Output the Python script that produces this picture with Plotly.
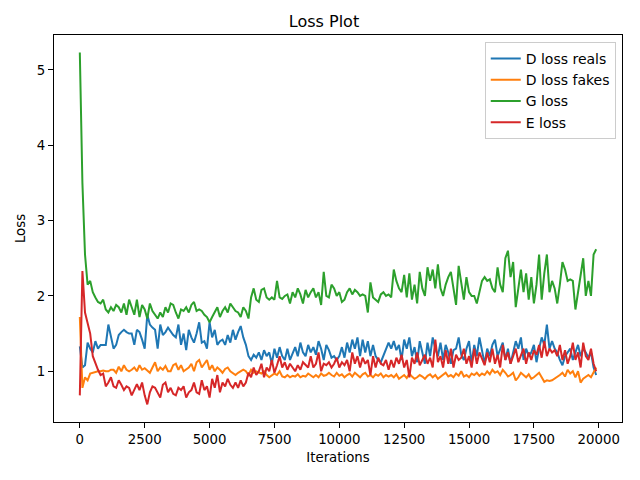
import plotly.graph_objects as go

# iterations, one sample every 100 steps
iterations = list(range(0, 20000, 100))

d_loss_reals = [
    1.33, 1.05, 1.08, 1.38, 1.30, 1.25, 1.40, 1.30, 1.35, 1.35,
    1.35, 1.62, 1.48, 1.30, 1.35, 1.48, 1.52, 1.55, 1.52, 1.50,
    1.50, 1.35, 1.55, 1.52, 1.42, 1.30, 1.75, 1.62, 1.58, 1.55,
    1.30, 1.62, 1.48, 1.52, 1.58, 1.52, 1.48, 1.45, 1.62, 1.35,
    1.50, 1.28, 1.55, 1.45, 1.38, 1.50, 1.65, 1.38, 1.40, 1.30,
    1.65, 1.45, 1.55, 1.35, 1.40, 1.42, 1.35, 1.48, 1.38, 1.55,
    1.42, 1.52, 1.60, 1.45, 1.35, 1.20, 1.15, 1.22, 1.18, 1.25,
    1.15, 1.28, 1.20, 1.25, 1.10, 1.30, 1.18, 1.32, 1.20, 1.15,
    1.30, 1.15, 1.25, 1.32, 1.20, 1.38, 1.25, 1.20, 1.35, 1.25,
    1.32, 1.22, 1.40, 1.30, 1.15, 1.35, 1.28, 1.18, 1.20, 1.15,
    1.20, 1.32, 1.18, 1.38, 1.25, 1.42, 1.30, 1.45, 1.20, 1.42,
    1.25, 1.40, 1.20, 1.35, 1.20, 1.15, 1.12, 1.20, 1.30, 1.38,
    1.30, 1.40, 1.28, 1.35, 1.15, 1.42, 1.30, 1.45, 1.20, 1.32,
    1.12, 1.40, 1.25, 1.10, 1.38, 1.20, 1.45, 1.30, 1.20, 1.38,
    1.15, 1.35, 1.25, 1.10, 1.28, 1.30, 1.45, 1.22, 1.15, 1.30,
    1.40, 1.10, 1.35, 1.20, 1.45, 1.25, 1.10, 1.30, 1.20, 1.35,
    1.42, 1.20, 1.30, 1.38, 1.15, 1.30, 1.10, 1.25, 1.40, 1.30,
    1.45, 1.15, 1.30, 1.20, 1.25, 1.35, 1.12, 1.30, 1.45, 1.35,
    1.62, 1.30, 1.40, 1.30, 1.25, 1.15, 1.08, 1.20, 1.25, 1.30,
    1.15, 1.25, 1.35, 1.20, 1.30, 1.25, 1.18, 1.25, 1.05, 0.95,
]

d_loss_fakes = [
    1.72, 0.78, 0.92, 0.88, 0.97, 0.98, 1.00, 1.00, 1.00, 1.01,
    1.00, 1.00, 1.02, 1.02, 0.98, 1.06, 1.00, 1.08, 1.02, 1.00,
    1.02, 1.05, 1.00, 1.08, 1.02, 1.04, 1.01, 0.98, 1.05, 1.12,
    1.00, 1.05, 1.02, 1.07, 1.00, 1.00, 1.08, 1.10, 1.02, 1.08,
    1.00, 1.02, 1.05, 1.10, 1.00, 1.12, 1.15, 1.05, 1.10, 1.15,
    1.02, 1.08, 1.00, 1.05, 1.02, 0.98, 1.03, 1.05, 1.00, 0.98,
    0.95, 0.98, 1.00, 1.02, 1.00, 0.95, 1.02, 0.98, 1.00, 0.98,
    0.97, 1.00, 0.95, 0.92, 0.95, 0.97, 0.95, 1.00, 0.93, 0.92,
    0.95, 0.92, 0.94, 0.93, 0.96, 0.92, 0.94, 0.93, 0.97, 0.95,
    0.92, 0.95, 0.92, 0.97, 0.94, 0.95, 0.98, 0.95, 0.93, 0.98,
    0.94, 0.96, 0.92, 0.95, 0.97, 0.93, 0.98, 0.95, 0.92, 0.96,
    0.98, 0.93, 0.95, 0.92, 0.96, 0.94, 0.97, 0.92, 0.95, 0.93,
    0.95, 0.92, 0.96, 0.90, 0.93, 0.95, 0.91, 0.97, 0.93, 0.90,
    0.92, 0.95, 0.93, 0.90, 0.94, 0.96, 0.92, 0.95, 0.90, 0.93,
    0.96, 0.98, 0.93, 0.95, 0.92, 0.97, 0.94, 1.00, 0.93, 0.95,
    0.92, 0.97, 0.95, 0.98, 0.94, 0.97, 0.95, 1.00, 0.96, 1.02,
    0.98, 1.00, 0.95, 1.02, 0.98, 0.93, 0.95, 0.98, 0.88, 0.92,
    0.98, 0.95, 0.92, 0.96, 0.90, 0.92, 0.95, 0.98, 0.92, 0.86,
    0.88, 0.87, 0.88, 0.90, 0.92, 0.95, 0.98, 0.93, 1.02, 0.97,
    1.00, 0.92, 1.00, 0.85, 0.90, 0.93, 0.95, 0.92, 0.98, 1.05,
]

g_loss = [
    5.23, 3.50, 2.55, 2.15, 2.20, 2.05, 1.98, 1.92, 1.90, 1.95,
    1.82, 1.78, 1.85, 1.80, 1.88, 1.85, 1.78, 1.90, 1.75, 1.95,
    1.85, 1.75, 1.95, 1.72, 1.88, 1.82, 1.70, 1.90, 1.80, 1.75,
    1.70, 1.78, 1.72, 1.85, 1.78, 1.90, 1.88, 1.78, 1.70, 1.82,
    1.80, 1.85, 1.78, 1.88, 1.92, 1.80, 1.82, 1.80, 1.75, 1.72,
    1.65, 1.72, 1.78, 1.85, 1.72, 1.80, 1.85, 1.78, 1.90, 1.85,
    1.80, 1.78, 1.72, 1.85, 1.80, 1.70, 1.98, 2.10, 1.95, 1.92,
    2.08, 2.10, 1.98, 1.95, 1.98, 1.95, 2.20, 1.98, 1.96, 2.00,
    2.02, 1.90, 2.05, 1.98, 2.10, 2.02, 1.90, 2.08, 1.98, 2.05,
    2.10, 1.98, 2.05, 1.88, 2.32, 2.00, 1.98, 2.15, 2.10, 2.00,
    2.05, 1.92, 1.95, 2.05, 2.10, 2.02, 2.08, 2.05, 2.00, 2.02,
    2.00, 1.78, 2.18, 1.98, 1.95, 1.92, 2.02, 2.05, 2.00, 2.02,
    1.98, 2.35, 2.20, 2.10, 2.05, 2.28, 1.98, 2.30, 1.95, 2.15,
    1.90, 2.32, 2.10, 2.00, 2.38, 2.20, 2.35, 2.10, 2.42, 2.10,
    2.00, 2.15, 2.25, 2.32, 2.10, 1.88, 2.40, 2.20, 1.95, 2.25,
    2.05, 2.00, 2.00, 1.90, 2.05, 2.20, 2.25, 2.20, 2.22, 2.10,
    2.05, 2.38, 2.15, 2.05, 2.50, 2.60, 2.25, 2.45, 1.85, 2.10,
    2.35, 2.05, 2.30, 1.95, 2.25, 1.90, 2.15, 2.55, 1.95, 2.30,
    2.55, 2.05, 2.20, 2.10, 1.90, 2.15, 2.45, 2.35, 2.20, 2.22,
    2.20, 1.82, 2.05, 2.25, 2.50, 2.00, 2.20, 2.00, 2.55, 2.62,
]

e_loss = [
    0.68, 2.33, 1.78, 1.65, 1.50, 1.20, 1.10, 1.02, 0.95, 0.97,
    0.80, 0.85, 0.92, 0.80, 0.78, 0.88, 0.82, 0.75, 0.80, 0.78,
    0.68, 0.75, 0.83, 0.75, 0.85, 0.68, 0.56, 0.72, 0.80, 0.78,
    0.72, 0.65, 0.82, 0.85, 0.72, 0.78, 0.70, 0.68, 0.78, 0.75,
    0.80, 0.65, 0.72, 0.75, 0.85, 0.72, 0.70, 0.88, 0.75, 0.80,
    0.65, 0.90, 0.78, 0.95, 0.72, 0.85, 0.80, 0.90, 0.82, 0.78,
    0.85, 0.78, 0.88, 0.80, 0.85, 0.98, 0.92, 1.05, 0.95, 1.00,
    1.10, 0.92, 1.05, 1.00, 1.15, 0.98, 1.08, 1.20, 1.05, 1.12,
    1.02, 1.10, 1.05, 1.00, 1.08, 1.02, 1.12, 1.08, 1.05, 1.20,
    1.05, 1.10, 1.25, 1.00, 1.10, 1.08, 1.12, 1.05, 1.10, 1.18,
    1.05, 1.12, 1.08, 1.15, 1.00, 1.25, 1.10, 1.20, 1.05, 1.18,
    1.10, 1.15, 0.95, 1.20, 1.05, 1.18, 1.10, 1.08, 1.15, 1.02,
    1.15, 1.05, 1.18, 1.10, 1.22, 1.05, 1.15, 0.92, 1.18, 1.10,
    1.25, 1.08, 1.15, 1.22, 1.10, 1.18, 1.05, 1.42, 1.12, 1.20,
    1.05, 1.28, 1.10, 1.30, 1.05, 1.22, 1.15, 1.18, 1.30, 1.10,
    1.20, 1.05, 1.30, 1.10, 1.25, 1.15, 1.08, 1.25, 1.12, 1.30,
    1.10, 1.22, 1.05, 1.35, 1.15, 1.25, 1.10, 1.20, 1.30, 1.12,
    1.20, 1.30, 1.10, 1.25, 1.15, 1.28, 1.22, 1.35, 1.18, 1.40,
    1.20, 1.30, 1.25, 1.28, 1.20, 1.35, 1.15, 1.28, 1.10, 1.20,
    1.38, 1.15, 1.25, 1.05, 1.38, 1.20, 1.15, 1.30, 1.10, 1.00,
]

series = [
    ("D loss reals", d_loss_reals, "#1f77b4"),
    ("D loss fakes", d_loss_fakes, "#ff7f0e"),
    ("G loss", g_loss, "#2ca02c"),
    ("E loss", e_loss, "#d62728"),
]

fig = go.Figure()
for name, values, color in series:
    fig.add_trace(go.Scatter(x=iterations, y=values, mode="lines", name=name,
                             legendgroup=name,
                             line=dict(color=color, width=2)))

# matplotlib-like 5% padding around the data
all_y = d_loss_reals + d_loss_fakes + g_loss + e_loss
ypad = (max(all_y) - min(all_y)) * 0.05
xpad = (iterations[-1] - iterations[0]) * 0.05

axis_style = dict(showline=True, linecolor="black", linewidth=1, mirror=True,
                  ticks="outside", ticklen=5, tickcolor="black", showgrid=False,
                  zeroline=False, automargin=False,
                  tickfont=dict(size=13.3, color="black"))

# the page body adds an 8px margin, so the figure is 8px smaller each way
fig.update_layout(
    width=632, height=472,
    margin=dict(l=46, r=18, t=27, b=58),
    paper_bgcolor="white", plot_bgcolor="white",
    font=dict(family="DejaVu Sans", color="black"),
    title=dict(text="Loss Plot", x=0.5, xanchor="center", y=0.972, yanchor="middle",
               font=dict(size=16)),
    legend=dict(x=0.989, y=0.982, xanchor="right", yanchor="top",
                bgcolor="rgba(255,255,255,0.8)", bordercolor="#cccccc", borderwidth=1,
                font=dict(size=14), tracegroupgap=0),
    showlegend=True,
)
fig.update_xaxes(range=[iterations[0] - xpad, iterations[-1] + xpad],
                 tickvals=[0, 2500, 5000, 7500, 10000, 12500, 15000, 17500, 20000],
                 ticktext=["0", "2500", "5000", "7500", "10000", "12500", "15000", "17500", "20000"],
                 title=dict(text="Iterations", font=dict(size=13.3), standoff=6),
                 **axis_style)
fig.update_yaxes(range=[min(all_y) - ypad, max(all_y) + ypad],
                 tickvals=[1, 2, 3, 4, 5],
                 title=dict(text="Loss", font=dict(size=13.3), standoff=8),
                 **axis_style)

fig.write_html("out.html")
